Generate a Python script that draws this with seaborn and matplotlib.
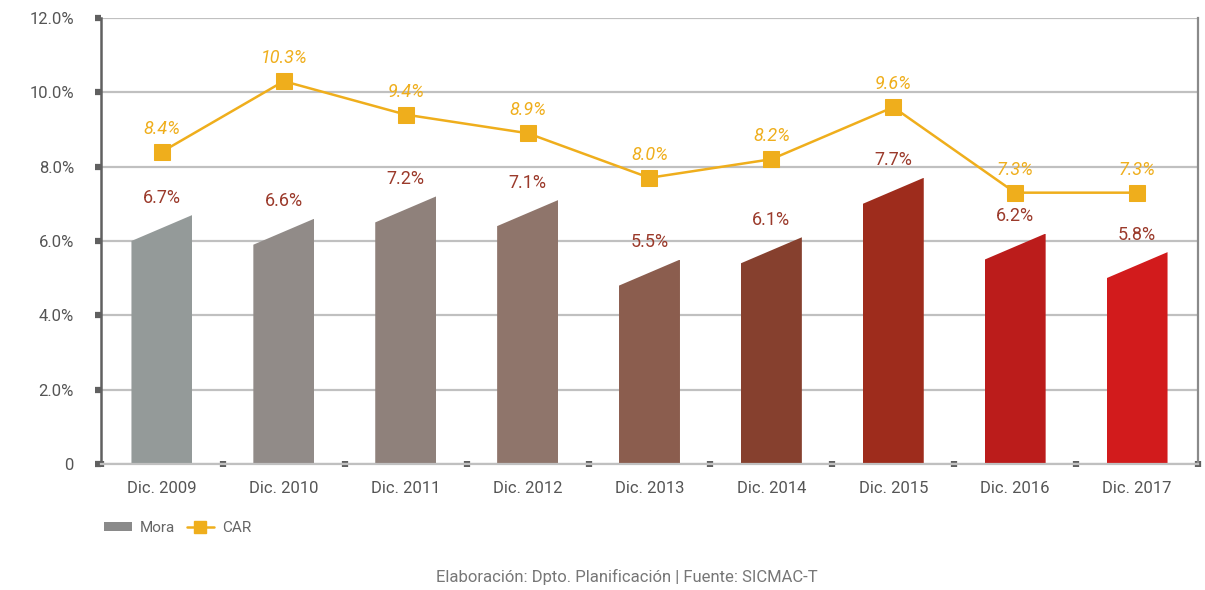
import matplotlib
matplotlib.use("Agg")
import matplotlib.pyplot as plt
import seaborn as sns
import pandas as pd
from matplotlib import font_manager
from matplotlib.patches import Polygon, Patch
from matplotlib.lines import Line2D
from matplotlib.ticker import FixedLocator

# Data
years = ["Dic. 2009", "Dic. 2010", "Dic. 2011", "Dic. 2012", "Dic. 2013",
         "Dic. 2014", "Dic. 2015", "Dic. 2016", "Dic. 2017"]
mora = [6.7, 6.6, 7.2, 7.1, 5.5, 6.1, 7.7, 6.2, 5.7]
mora_labels = ["6.7%", "6.6%", "7.2%", "7.1%", "5.5%", "6.1%", "7.7%", "6.2%", "5.8%"]
car = [8.4, 10.3, 9.4, 8.9, 7.7, 8.2, 9.6, 7.3, 7.3]
car_labels = ["8.4%", "10.3%", "9.4%", "8.9%", "8.0%", "8.2%", "9.6%", "7.3%", "7.3%"]
y_ticks = [0, 2, 4, 6, 8, 10, 12]
y_tick_labels = ["0", "2.0%", "4.0%", "6.0%", "8.0%", "10.0%", "12.0%"]

bar_colors = ["#949a99", "#918b88", "#8f817b", "#8f756b", "#8b5d4e",
              "#86402e", "#9e2c1c", "#bb1c1b", "#d21b1c"]
CAR_COLOR = "#efae1c"
MORA_TXT = "#9b3a2b"
SLANT = 0.7  # drop of the left top corner of each bar, in % units

df = pd.DataFrame({"year": years, "mora": mora, "car": car})

sns.set_theme(style="white")
font = "Roboto"
for cand in ["Liberation Sans Narrow", "Roboto"]:
    try:
        font_manager.findfont(cand, fallback_to_default=False)
        font = cand
        break
    except Exception:
        pass
plt.rcParams["font.family"] = [font, "DejaVu Sans"]

fig = plt.figure(figsize=(12.05, 5.9), dpi=100)
ax = fig.add_axes([0.0838, 0.2136, 0.9104, 0.7559])

sns.barplot(data=df, x="year", y="mora", hue="year", palette=bar_colors,
            width=0.5, legend=False, ax=ax, zorder=2, saturation=1)

# cut the slanted tops
for p in ax.patches:
    x0, w, h = p.get_x(), p.get_width(), p.get_height()
    poly = Polygon([(x0, 0), (x0, h - SLANT), (x0 + w, h), (x0 + w, 0)],
                   closed=True, transform=ax.transData)
    p.set_clip_path(poly)
    p.set_edgecolor("none")

sns.lineplot(data=df, x="year", y="car", color=CAR_COLOR, linewidth=1.8,
             marker="s", markersize=11, markeredgecolor=CAR_COLOR,
             ax=ax, zorder=4, sort=False)

for i, (v, lab) in enumerate(zip(mora, mora_labels)):
    ax.annotate(lab, (i, v), xytext=(0, 6), textcoords="offset points",
                ha="center", va="bottom", fontsize=13, color=MORA_TXT)
for i, (v, lab) in enumerate(zip(car, car_labels)):
    ax.annotate(lab, (i, v), xytext=(0, 10), textcoords="offset points",
                ha="center", va="bottom", fontsize=13, color=CAR_COLOR,
                style="italic")

ax.set_ylim(0, 12)
ax.set_xlim(-0.5, len(years) - 0.5)
ax.set_yticks(y_ticks)
ax.set_yticklabels(y_tick_labels)
ax.yaxis.grid(True, color="#c0c0c0", linewidth=1.6, zorder=0)
ax.set_axisbelow(True)
ax.set_xlabel("")
ax.set_ylabel("")

ax.xaxis.set_minor_locator(FixedLocator([k - 0.5 for k in range(len(years) + 1)]))
ax.tick_params(axis="x", which="major", bottom=False, length=0, pad=12,
               labelsize=12, labelcolor="#555555")
ax.tick_params(axis="x", which="minor", bottom=True, length=5, width=4.5,
               direction="inout", color="#606060")
ax.tick_params(axis="y", which="major", left=True, length=4.5, width=4.5,
               direction="out", color="#606060", pad=15, labelsize=12,
               labelcolor="#555555")

ax.spines["top"].set_visible(False)
ax.spines["left"].set_color("#606060")
ax.spines["left"].set_linewidth(1.8)
ax.spines["right"].set_color("#8a8a8a")
ax.spines["right"].set_linewidth(1.6)
ax.spines["bottom"].set_color("#c0c0c0")
ax.spines["bottom"].set_linewidth(1.6)

handles = [Patch(facecolor="#8a8a8a", edgecolor="none", label="Mora"),
           Line2D([], [], color=CAR_COLOR, linewidth=1.8, marker="s",
                  markersize=8, label="CAR")]
leg = fig.legend(handles=handles, loc="center left", bbox_to_anchor=(0.075, 0.105),
                 ncol=2, frameon=False, fontsize=11, handlelength=1.8,
                 handleheight=0.5, columnspacing=0.8, handletextpad=0.5)
for t in leg.get_texts():
    t.set_color("#666666")

fig.text(0.52, 0.022, "Elaboración: Dpto. Planificación | Fuente: SICMAC-T",
         ha="center", va="center", fontsize=12, color="#777777")

fig.savefig("out.png", dpi=100)
